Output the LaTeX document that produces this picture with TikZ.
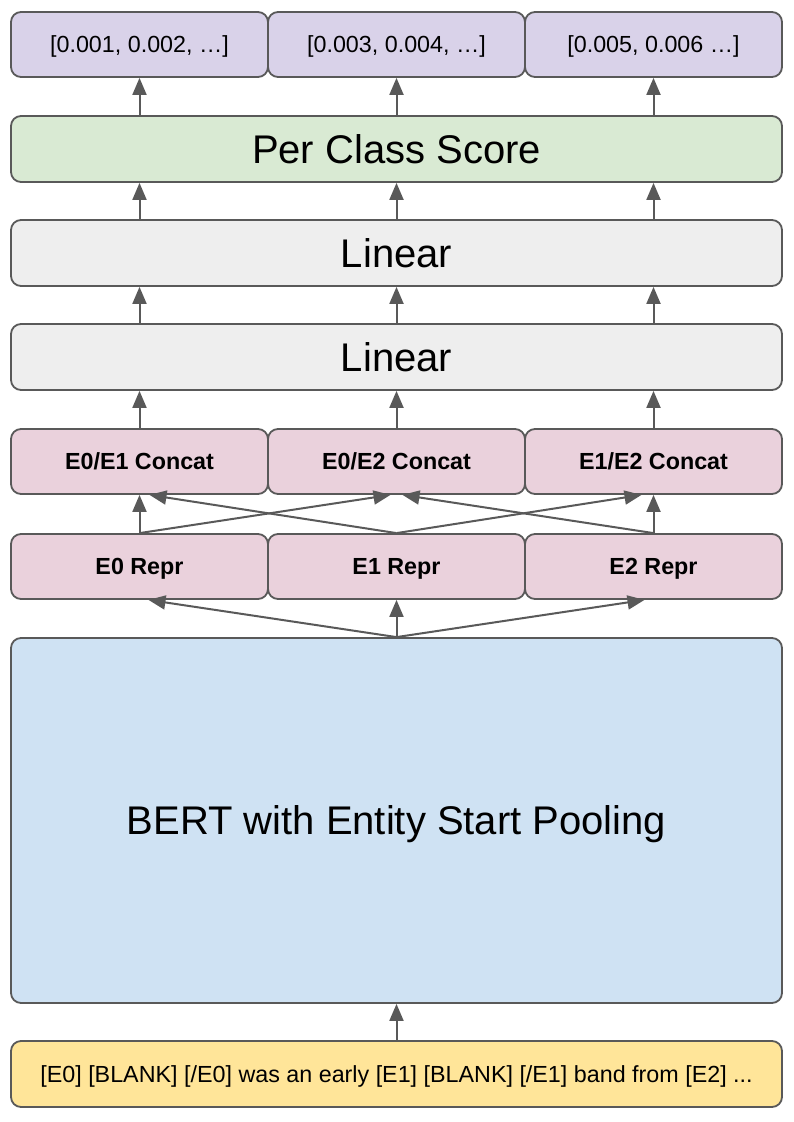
\documentclass[tikz,border=0pt]{standalone}
\usepackage{fontspec}
\setmainfont{Liberation Sans}
\usetikzlibrary{arrows.meta}
\definecolor{edge}{HTML}{595959}
\definecolor{outfill}{HTML}{D9D2E9}
\definecolor{scorefill}{HTML}{D9EAD3}
\definecolor{linfill}{HTML}{EEEEEE}
\definecolor{pinkfill}{HTML}{EAD1DC}
\definecolor{bertfill}{HTML}{CFE2F3}
\definecolor{infill}{HTML}{FFE599}
\begin{document}
\begin{tikzpicture}[x=1pt,y=1pt,->,>={Triangle[length=17pt,width=14pt]},draw=edge,line width=2pt]
      \tikzstyle{box}=[draw=edge, rounded corners=10pt, inner sep=0pt, line width=1.8pt, text depth=0pt]
      \tikzstyle{small}=[box, minimum width=257pt, minimum height=65pt]
      \tikzstyle{wide}=[box, minimum width=771pt, minimum height=66pt]
      \tikzstyle{big}=[font=\fontsize{40}{48}\selectfont, text height=28.6pt]
      \tikzstyle{label}=[font=\fontsize{23.3}{28}\selectfont, text height=16.7pt]
      \tikzstyle{bold}=[font=\fontsize{23.3}{28}\selectfont\bfseries, text height=16.7pt]
      \useasboundingbox (0,0) rectangle (794,-1122);

      \foreach \name/\txt/\x in {o0/{[0.001, 0.002, …]}/139.5, o1/{[0.003, 0.004, …]}/396.5, o2/{[0.005, 0.006 …]}/653.5}
        \node[small, label, fill=outfill] (G-\name) at (\x,-44.5) {\txt};
      \foreach \name/\txt/\x in {c01/E0\slash E1 Concat/139.5, c02/E0\slash E2 Concat/396.5, c12/E1\slash E2 Concat/653.5}
        \node[small, bold, fill=pinkfill] (G-\name) at (\x,-461.5) {\txt};
      \foreach \name/\txt/\x in {r0/E0 Repr/139.5, r1/E1 Repr/396.5, r2/E2 Repr/653.5}
        \node[small, bold, fill=pinkfill] (G-\name) at (\x,-566.5) {\txt};

      \node[wide, big, fill=scorefill] (G-score) at (396.5,-149) {Per Class Score};
      \node[wide, big, fill=linfill] (G-lin1) at (396.5,-253) {Linear};
      \node[wide, big, fill=linfill] (G-lin2) at (396.5,-357) {Linear};
      \node[wide, big, fill=bertfill, minimum height=365pt] (G-bert) at (396.5,-820.5) {BERT with Entity Start Pooling};
      \node[wide, label, fill=infill] (G-in) at (396.5,-1074) {[E0] [BLANK] [/E0] was an early [E1] [BLANK] [/E1] band from [E2] ...};

      % straight columns
      \foreach \n in {0,1,2} {
        \draw (G-score.north -| G-o\n) -- (G-o\n.south);
        \draw (G-lin1.north -| G-o\n) -- (G-score.south -| G-o\n);
        \draw (G-lin2.north -| G-o\n) -- (G-lin1.south -| G-o\n);
        \draw (G-c01.north -| G-o\n) -- (G-lin2.south -| G-o\n);
      }

      % pairs
      \foreach \from/\to/\dx in {r0/c01/0, r0/c02/-6, r1/c01/10, r1/c12/-12, r2/c02/6, r2/c12/0}
        \draw (G-\from.north) -- ([xshift=\dx pt]G-\to.south);

      \foreach \to/\dx in {r0/9, r1/0, r2/-9}
        \draw (G-bert.north) -- ([xshift=\dx pt]G-\to.south);
      \draw (G-in.north) -- (G-bert.south);
    \end{tikzpicture}
\end{document}
